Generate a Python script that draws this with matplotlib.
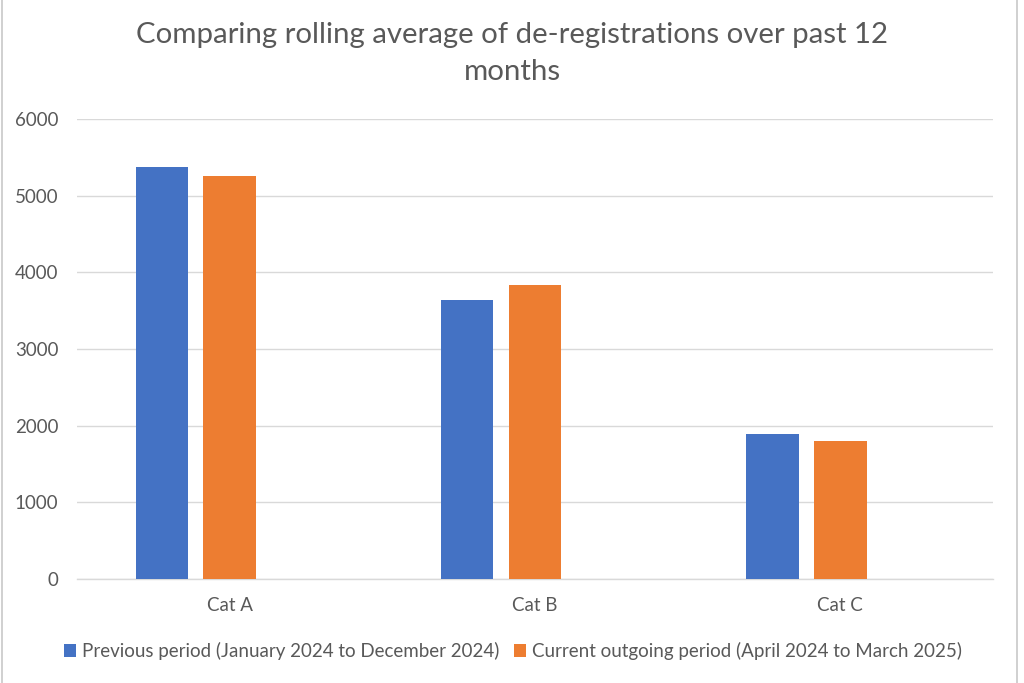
import matplotlib
matplotlib.use("Agg")
import matplotlib.pyplot as plt
from matplotlib.patches import Patch
from matplotlib.lines import Line2D
import numpy as np

categories = ["Cat A", "Cat B", "Cat C"]
previous = [5375, 3642, 1889]
current = [5261, 3834, 1805]
series_names = ["Previous period (January 2024 to December 2024)",
                "Current outgoing period (April 2024 to March 2025)"]
yticks = [0, 1000, 2000, 3000, 4000, 5000, 6000]

BLUE = "#4472C4"
ORANGE = "#ED7D31"
TXT = "#595959"
GRID = "#D9D9D9"
FONT = ["Lato", "DejaVu Sans"]

plt.rcParams['font.family'] = FONT

fig = plt.figure(figsize=(10.24, 6.83), dpi=100)
ax = fig.add_axes([77/1024, 1-579/683, (993-77)/1024, (579-119)/683])

x = np.arange(len(categories))
w = 0.172
ax.bar(x - 0.222, previous, width=w, color=BLUE, zorder=3)
ax.bar(x, current, width=w, color=ORANGE, zorder=3)

ax.set_xlim(-0.5, len(categories) - 0.5)
ax.set_ylim(0, 6000)
ax.set_yticks(yticks)
ax.set_yticklabels([str(t) for t in yticks])
ax.set_xticks(x)
ax.set_xticklabels(categories)
ax.tick_params(axis='both', length=0, colors=TXT, labelsize=13.5)
ax.tick_params(axis='y', pad=13.5)
ax.tick_params(axis='x', pad=13)
ax.yaxis.grid(True, color=GRID, linewidth=1, zorder=0)
for s in ["top", "right", "left"]:
    ax.spines[s].set_visible(False)
ax.spines["bottom"].set_color(GRID)
ax.spines["bottom"].set_linewidth(1)

fig.text(0.5, 1-35/683, "Comparing rolling average of de-registrations over past 12",
         ha="center", va="center", fontsize=21.2, color=TXT)
fig.text(0.5, 1-72/683, "months", ha="center", va="center", fontsize=21.2, color=TXT)

handles = [Patch(facecolor=BLUE), Patch(facecolor=ORANGE)]
fig.legend(handles, series_names, loc="center", bbox_to_anchor=(513/1024, 1-651/683),
           ncol=2, frameon=False, fontsize=13.5, labelcolor=TXT,
           handlelength=0.65, handleheight=0.65, handletextpad=0.3, columnspacing=0.8)

fig.add_artist(Line2D([2/1024, 2/1024], [0, 1], color="#C8C8C8", linewidth=1.2))
fig.add_artist(Line2D([1017/1024, 1017/1024], [0, 1], color="#C8C8C8", linewidth=1.2))

fig.savefig("out.png", dpi=100)
